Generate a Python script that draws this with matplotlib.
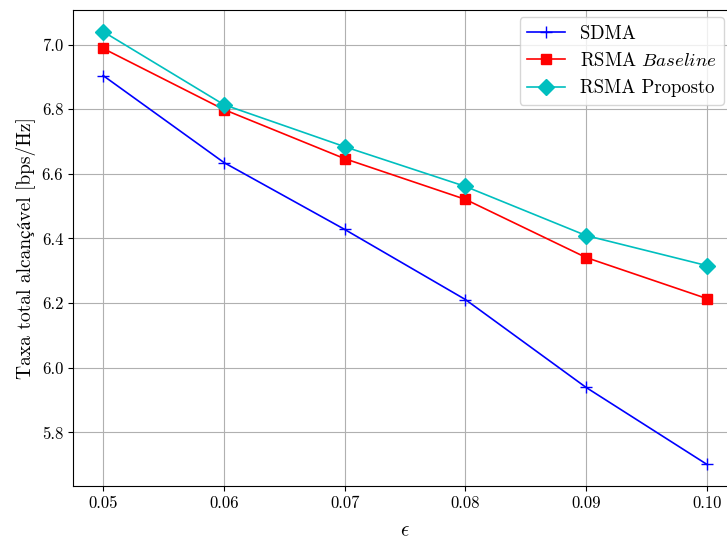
import numpy as np
import matplotlib
matplotlib.use("Agg")
import matplotlib.pyplot as plt

plt.rcParams['font.family'] = 'serif'
plt.rcParams['font.serif'] = ['cmr10']
plt.rcParams['mathtext.fontset'] = 'cm'
plt.rcParams['axes.formatter.use_mathtext'] = True
plt.rcParams['font.size'] = 12

# data
eps = [0.05, 0.06, 0.07, 0.08, 0.09, 0.10]
sdma = [6.904, 6.635, 6.428, 6.211, 5.939, 5.701]
rsma_baseline = [6.988, 6.799, 6.647, 6.521, 6.341, 6.214]
rsma_proposto = [7.040, 6.814, 6.684, 6.561, 6.409, 6.316]

fig = plt.figure(figsize=(7.27, 5.41), dpi=100)
# right spine sits just past the picture edge, like in the reference
ax = fig.add_axes([0.1004, 0.1017, 0.9134, 0.8798])

ax.plot(eps, sdma, 'b-', marker='+', markersize=8, linewidth=1.2, label='SDMA')
ax.plot(eps, rsma_baseline, 'r-', marker='s', markersize=7, linewidth=1.2,
        label=r'RSMA $\mathit{Baseline}$')
ax.plot(eps, rsma_proposto, 'c-', marker='D', markersize=8, linewidth=1.2,
        label='RSMA Proposto')

ax.set_xticks(eps)
ax.set_xticklabels(['0.05', '0.06', '0.07', '0.08', '0.09', '0.10'])
ax.set_yticks([5.8, 6.0, 6.2, 6.4, 6.6, 6.8, 7.0])
ax.set_yticklabels(['5.8', '6.0', '6.2', '6.4', '6.6', '6.8', '7.0'])
ax.tick_params(labelsize=12)
ax.grid(True)
ax.set_xlabel(r'$\epsilon$', fontsize=15, labelpad=8)
ax.set_ylabel('Taxa total alcançável [bps/Hz]', fontsize=14,
              family=['cmr10', 'STIXGeneral', 'DejaVu Serif'])
ax.legend(loc='upper right', bbox_to_anchor=(0.98, 0.985), borderaxespad=0,
          fontsize=13.5)

fig.savefig('out.png', dpi=100)
